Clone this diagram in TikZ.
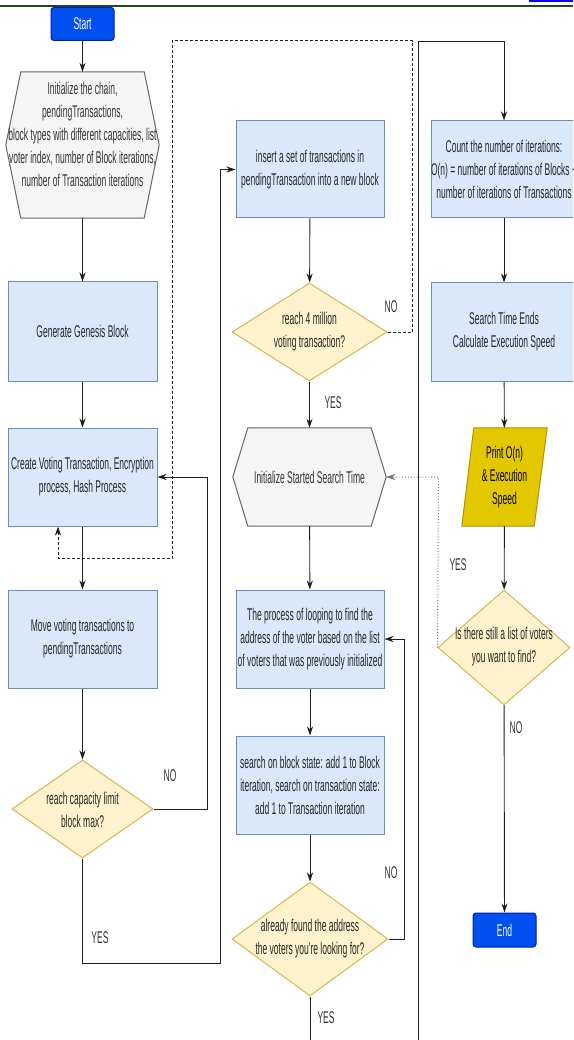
\documentclass[tikz,border=0pt]{standalone}
\usepackage{fontspec}
\newfontfamily\nf[FakeStretch=0.5]{Liberation Sans}
\usetikzlibrary{shapes.geometric,arrows.meta,backgrounds}
\definecolor{procfill}{HTML}{DAE8FC}
\definecolor{procline}{HTML}{6C8EBF}
\definecolor{decfill}{HTML}{FFF2CC}
\definecolor{decline}{HTML}{D6B656}
\definecolor{hexfill}{HTML}{F5F5F5}
\definecolor{hexline}{HTML}{666666}
\definecolor{termfill}{HTML}{0050EF}
\definecolor{termline}{HTML}{001DBC}
\definecolor{printfill}{HTML}{E3C800}
\definecolor{printline}{HTML}{B09500}
\definecolor{txtgray}{HTML}{333333}
\definecolor{hdrgreen}{HTML}{1E4A1E}
\tikzset{
  x=1pt, y=-1pt,
  every node/.style={font=\nf\fontsize{17}{23}\selectfont, inner sep=0pt, align=center},
  proc/.style={rectangle, draw=procline, fill=procfill, line width=1pt, text=black!85},
  term/.style={rectangle, rounded corners=3pt, draw=termline, fill=termfill, line width=1pt, text=white, minimum width=63pt, minimum height=33pt},
  dec/.style={diamond, draw=decline, fill=decfill, line width=1pt},
  plain/.style={rectangle},
  hexshape/.style={draw=hexline, fill=hexfill, line width=1pt},
  conn/.style={draw=black!88, line width=0.9pt, -{Stealth[length=9pt,width=6pt]}},
  lbl/.style={text=black!80}
}
\begin{document}
\begin{tikzpicture}
\useasboundingbox (0,0) rectangle (573,1040);
\clip (0,0) rectangle (573,1040);
\begin{scope}[on background layer]
\fill[white] (0,0) rectangle (573,1040);
\end{scope}
% page header lines
\draw[hdrgreen, line width=2pt] (0,6) -- (573,6);
\draw[blue, line width=1.5pt] (529,1) -- (573,1);

% left column
\node[term] (start) at (82.5,24) {Start};
\node[plain, minimum width=153pt, minimum height=146pt] (init) at (82.5,145) {};
\node[text=txtgray] (inittxt) at (82.5,134)
  {Initialize the chain,\\pendingTransactions,\\block types with different capacities, list\\voter index, number of Block iterations,\\number of Transaction iterations};
\node[proc, minimum width=149pt, minimum height=99pt] (gen) at (82.5,331.5) {Generate Genesis Block};
\node[proc, minimum width=149pt, minimum height=98pt] (create) at (82.5,477) {Create Voting Transaction, Encryption\\process, Hash Process};
\node[proc, minimum width=149pt, minimum height=98pt] (move) at (82.5,639) {Move voting transactions to\\pendingTransactions};
\node[dec, minimum width=141pt, minimum height=98pt] (cap) at (82.5,809) {};
\node[text=black!85] (captxt) at (82.5,810) {reach capacity limit\\block max?};

% middle column
\node[proc, minimum width=148pt, minimum height=97pt] (insert) at (310,169.5) {insert a set of transactions in\\pendingTransaction into a new block};
\node[dec, minimum width=155pt, minimum height=98pt] (four) at (309.5,332) {};
\node[text=black!85] (fourtxt) at (309.5,332) {reach 4 million\\voting transaction?};
\node[plain, minimum width=153pt, minimum height=98pt, text=txtgray] (sstart) at (309.5,477) {Initialize Started Search Time};
\node[proc, minimum width=148pt, minimum height=98pt] (loop) at (310,639) {The process of looping to find the\\address of the voter based on the list\\of voters that was previously initialized};
\node[proc, minimum width=148pt, minimum height=98pt] (search) at (310,785) {search on block state: add 1 to Block\\iteration, search on transaction state:\\add 1 to Transaction iteration};
\node[dec, minimum width=156pt, minimum height=114pt] (found) at (310,939) {};
\node[text=black!85] (foundtxt) at (310,939) {already found the address\\the voters you're looking for?};

% right column
\node[proc, minimum width=146pt, minimum height=97pt] (count) at (504,169.5) {Count the number of iterations:\\O(n) = number of iterations of Blocks +\\number of iterations of Transactions};
\node[proc, minimum width=146pt, minimum height=98pt] (ends) at (504,332) {Search Time Ends\\Calculate Execution Speed};
\node[plain, minimum width=85pt, minimum height=98pt, text=black] (print) at (504.5,477) {Print O(n)\\\& Execution\\Speed};
\node[dec, minimum width=132pt, minimum height=115pt] (more) at (504,647.5) {};
\node[text=black!85] (moretxt) at (504,647) {Is there still a list of voters\\you want to find?};
\node[term, minimum height=34pt] (end) at (504.5,930) {End};

% backgrounds for custom shapes
\begin{scope}[on background layer]
\draw[hexshape] (init.west) -- ([xshift=15pt]init.north west) -- ([xshift=-15pt]init.north east) -- (init.east) -- ([xshift=-15pt]init.south east) -- ([xshift=15pt]init.south west) -- cycle;
\draw[hexshape] (sstart.west) -- ([xshift=15pt]sstart.north west) -- ([xshift=-15pt]sstart.north east) -- (sstart.east) -- ([xshift=-15pt]sstart.south east) -- ([xshift=15pt]sstart.south west) -- cycle;
\draw[draw=printline, fill=printfill, line width=1pt] ([xshift=12pt]print.north west) -- (print.north east) -- ([xshift=-13pt]print.south east) -- (print.south west) -- cycle;
\end{scope}

% coordinates
\coordinate (bot1) at (310,1040);
\coordinate (bot2) at (418,1040);
\coordinate (cdash) at ([xshift=-24.5pt]create.south);

% connectors
\draw[conn] (start) -- (init);
\draw[conn] (init) -- (gen);
\draw[conn] (gen) -- (create);
\draw[conn] (create) -- (move);
\draw[conn] (move) -- (cap);
\draw[conn] (cap.east) -- (207,809) -- (207,477) -- (create.east);
\draw[conn] (cap.south) -- (82.5,963) -- (220,963) -- (220,169.5) -- (insert.west);
\draw[conn] (insert) -- (four);
\draw[conn, dashed, dash pattern=on 3pt off 2pt, line width=1pt] (four.east) -- (412,332) -- (412,41) -- (172,41) -- (172,558) -- (58,558) -- (cdash);
\draw[conn] (four) -- (sstart);
\draw[conn] (sstart) -- (loop);
\draw[conn] (loop) -- (search);
\draw[conn] (search) -- (found);
\draw[conn] (found.east) -- (404,939) -- (404,639) -- (loop.east);
\draw[draw=black!88, line width=0.9pt] (found.south) -- (bot1);
\draw[conn] (bot2) -- (418,41) -- (504,41) -- (count.north);
\draw[conn] (count) -- (ends);
\draw[conn] (ends) -- (print);
\draw[conn] (print) -- (more);
\draw[conn, draw=black!55, dotted, line width=1pt] (more.west) -- (438.5,477) -- (sstart.east);
\draw[conn] (more) -- (end);

% labels
\node[lbl] (lno1) at (170,776) {NO};
\node[lbl] (lyes1) at (100,938) {YES};
\node[lbl] (lno2) at (391,307) {NO};
\node[lbl] (lyes2) at (333,403) {YES};
\node[lbl] (lno3) at (391,873) {NO};
\node[lbl] (lyes3) at (326,1018) {YES};
\node[lbl] (lyes4) at (458,565) {YES};
\node[lbl] (lno4) at (516,728) {NO};
\end{tikzpicture}
\end{document}
